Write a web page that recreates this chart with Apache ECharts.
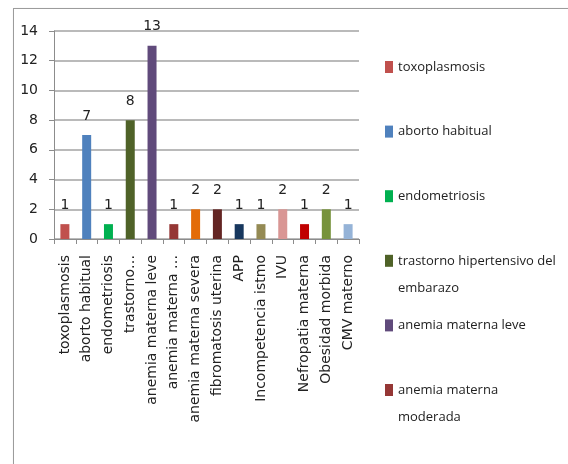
<!DOCTYPE html>
<html>
<head>
<meta charset="utf-8">
<script src="https://cdn.jsdelivr.net/npm/echarts@6/dist/echarts.min.js"></script>
<style>
  html, body { margin: 0; padding: 0; background: #fff; }
  #frame { position: absolute; left: 13px; top: 8px; width: 620px; height: 520px;
           border: 1px solid #9c9c9c; box-shadow: 1px 1px 2px rgba(0,0,0,0.25); }
  #chart { position: absolute; left: 0; top: 0; width: 568px; height: 464px; }
</style>
</head>
<body>
<div id="frame"></div>
<div id="chart"></div>
<script>
// Patologías maternas: número de casos por diagnóstico
const categories = [
  'toxoplasmosis', 'aborto habitual', 'endometriosis',
  'trastorno hipertensivo del embarazo', 'anemia materna leve',
  'anemia materna moderada', 'anemia materna severa', 'fibromatosis uterina',
  'APP', 'Incompetencia istmo', 'IVU', 'Nefropatia materna',
  'Obesidad morbida', 'CMV materno'
];
const values = [1, 7, 1, 8, 13, 1, 2, 2, 1, 1, 2, 1, 2, 1];
const tickLabels = [
  'toxoplasmosis', 'aborto habitual', 'endometriosis', 'trastorno…',
  'anemia materna leve', 'anemia materna …', 'anemia materna severa',
  'fibromatosis uterina', 'APP', 'Incompetencia istmo', 'IVU',
  'Nefropatia materna', 'Obesidad morbida', 'CMV materno'
];
const colors = [
  '#C0504D', '#4F81BD', '#00B050', '#4F6228', '#604A7B', '#953735', '#E36C09',
  '#632523', '#17375E', '#948A54', '#D99694', '#C00000', '#77933C', '#95B3D7'
];
// the legend box only has room for the first entries
const legendShown = categories.slice(0, 6);

const textColor = '#222';
const axisFont = 'DejaVu Sans';
const legendFont = 'Open Sans';
const legendFontSize = 13;
const legendWrap = 162;
const legendLine = 27;
const legendStep = 64.6;

// measure legend text to know which entries wrap onto two lines
const ctx = document.createElement('canvas').getContext('2d');
ctx.font = legendFontSize + 'px "' + legendFont + '"';
function wrapsToTwoLines(s) { return ctx.measureText(s).width > legendWrap; }

const chart = echarts.init(document.getElementById('chart'), null, { renderer: 'canvas' });

const series = categories.map((name, i) => ({
  type: 'bar',
  name: name,
  stack: 'casos',
  barWidth: 9,
  itemStyle: { color: colors[i] },
  label: {
    show: true, position: 'top', distance: 12,
    color: textColor, fontFamily: axisFont, fontSize: 14
  },
  data: values.map((v, j) => (j === i ? v : '-'))
}));

// one legend block per entry; wrapped entries get an empty leading line so the
// swatch sits beside the first line of text
const legends = legendShown.map((name, i) => {
  const two = wrapsToTwoLines(name);
  const firstLineY = 67 + i * legendStep;
  return {
    data: [name],
    orient: 'vertical',
    left: 380,
    top: firstLineY - 5 - (two ? legendLine * 1.5 : legendLine / 2),
    icon: 'rect',
    itemWidth: 8,
    itemHeight: 12,
    selectedMode: false,
    formatter: (n) => (two ? '\n' + n : n),
    textStyle: {
      color: textColor, fontFamily: legendFont, fontSize: legendFontSize,
      width: legendWrap, overflow: 'break', lineHeight: legendLine
    }
  };
});

chart.setOption({
  animation: false,
  grid: { left: 54, right: 209, top: 31, bottom: 225, containLabel: false },
  legend: legends,
  xAxis: {
    type: 'category',
    data: categories,
    axisLine: { lineStyle: { color: '#8c8c8c', width: 1 } },
    axisTick: { show: true, length: 5, lineStyle: { color: '#8c8c8c' } },
    axisLabel: {
      interval: 0, rotate: 90, margin: 16,
      color: textColor, fontFamily: axisFont, fontSize: 14,
      formatter: (v, idx) => tickLabels[idx]
    }
  },
  yAxis: {
    type: 'value',
    min: 0, max: 14, interval: 2,
    axisLine: { show: true, lineStyle: { color: '#8c8c8c', width: 1 } },
    axisTick: { show: true, length: 5, lineStyle: { color: '#8c8c8c' } },
    splitLine: { show: true, lineStyle: { color: '#a3a3a3', width: 1.5 } },
    axisLabel: { margin: 16, color: textColor, fontFamily: axisFont, fontSize: 14 }
  },
  series: series
});
</script>
</body>
</html>
